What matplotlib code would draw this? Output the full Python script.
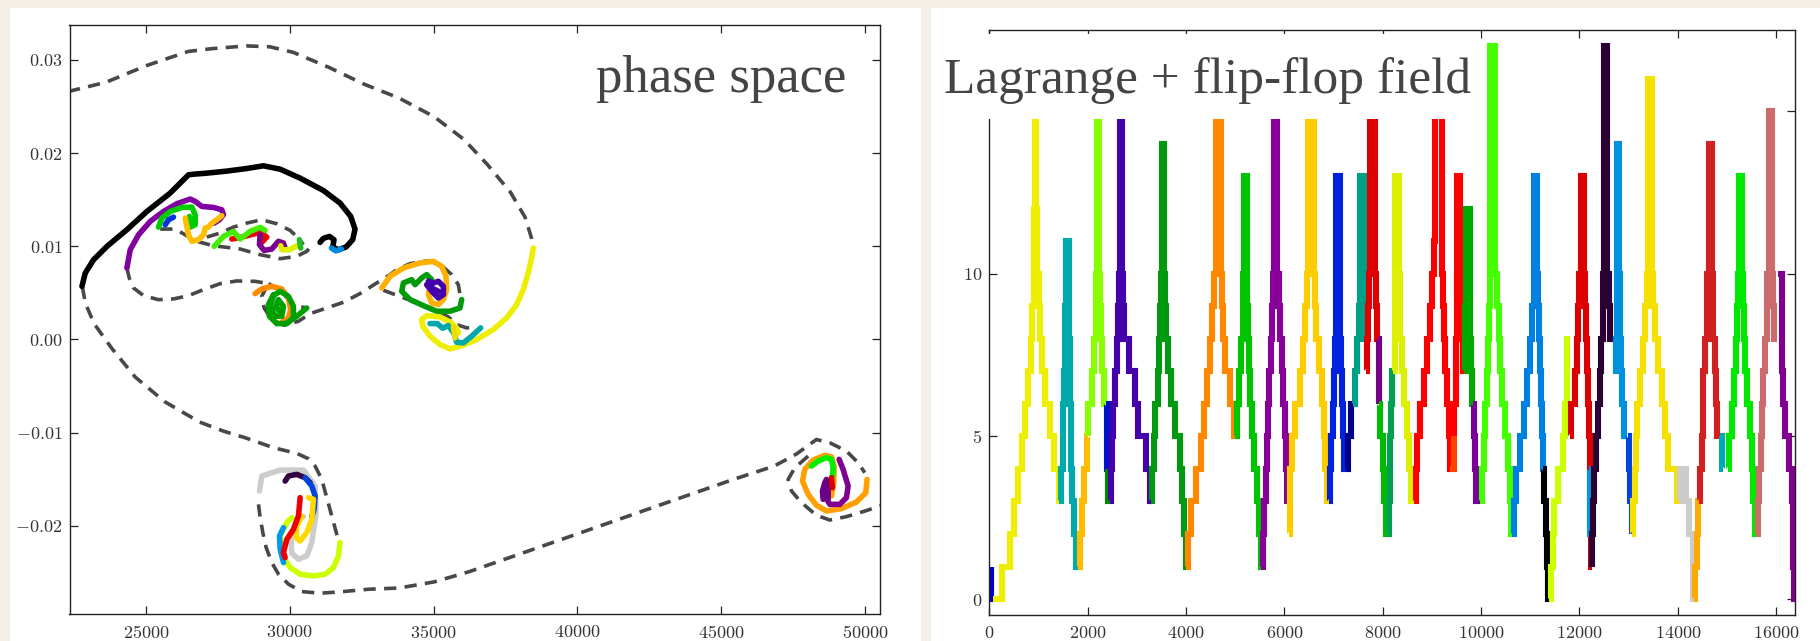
import matplotlib
matplotlib.use('Agg')
import matplotlib.pyplot as plt
from matplotlib.patches import Rectangle

OUTPUT_FILENAME = 'out.png'
PAPER_COLOR = '#f3eee6'
INK = '#333333'
DASH_COLOR = '#484848'

plt.rcParams['font.family'] = 'serif'
plt.rcParams['font.serif'] = ['cmr10']
plt.rcParams['mathtext.fontset'] = 'cm'
plt.rcParams['axes.formatter.use_mathtext'] = True

# ---- left panel: phase space -------------------------------------------
PHASE_XLIM = (22351, 50510)
PHASE_YLIM = (-0.0295, 0.0337)
PHASE_XTICKS = [25000, 30000, 35000, 40000, 45000, 50000]
PHASE_YTICKS = [-0.02, -0.01, 0.0, 0.01, 0.02, 0.03]

# reference orbit (dashed), one list per piece
DASHED_X = [
    [22300, 23620, 25040, 26470, 27280, 28500, 29320, 30130, 31360, 32580,
     33800, 35020, 36040, 36860, 37670, 38180, 38440],
    [24345, 24426, 24576, 24924, 25444, 25965, 26485, 27006, 27585, 28163,
     28799, 29262, 29030, 29112, 29378, 29806, 30304, 30709, 31287, 31866,
     32444, 33023, 33485, 33720, 34183, 34819, 35282, 35629, 35860, 35918],
    [29262, 29552, 29956, 30188, 30593],
    [33257, 34183, 35108, 35513, 35802, 36149, 36439],
    [22800, 22902, 23207, 23819, 24633, 25652, 26874, 27700, 28455, 29438,
     30248, 30653, 30884, 31116, 31289, 31463, 31636, 31752],
    [28917, 28975, 29068, 29183, 29380, 29612, 29959, 30421, 31058, 31752,
     32735, 33800, 35022, 36244, 37670, 39300, 41337, 43374, 45411, 46837,
     47609, 48300, 48766, 49344, 49749, 49980],
    [48013, 47551, 47319, 47435, 47782, 48303, 48766, 49344, 49923, 50444, 50700],
    [25502, 26023, 26428, 26775, 27353, 28279, 28973, 29667, 30246, 30593, 30766],
    [27122, 27585, 28047, 28510, 29031, 29552, 30014, 30304, 30477],
]
DASHED_Y = [
    [0.0266, 0.0276, 0.0294, 0.0309, 0.0312, 0.0315, 0.0314, 0.0308, 0.0292,
     0.0274, 0.0259, 0.0239, 0.0215, 0.0188, 0.0158, 0.0131, 0.0105],
    [0.00766, 0.00659, 0.00552, 0.00469, 0.00426, 0.00434, 0.00469, 0.00534,
     0.00598, 0.00627, 0.00623, 0.00598, 0.00462, 0.00337, 0.00212, 0.00151,
     0.00194, 0.00276, 0.00337, 0.00398, 0.00491, 0.00605, 0.00694, 0.00748,
     0.00813, 0.00845, 0.00791, 0.00695, 0.00587, 0.00480],
    [0.00598, 0.00552, 0.00433, 0.00362, 0.00337],
    [0.00527, 0.00420, 0.00302, 0.00241, 0.00159, 0.00123, 0.00134],
    [0.00563, 0.00388, 0.00168, -0.00096, -0.00404, -0.00668, -0.00888,
     -0.00985, -0.01056, -0.01163, -0.01224, -0.01281, -0.01360, -0.01503,
     -0.01699, -0.01896, -0.02092, -0.02199],
    [-0.01771, -0.01914, -0.02074, -0.02235, -0.02396, -0.02521, -0.02628,
     -0.02707, -0.02725, -0.02710, -0.02682, -0.02669, -0.02603, -0.02493,
     -0.02339, -0.02163, -0.01943, -0.01723, -0.01504, -0.01360, -0.01230,
     -0.01075, -0.01110, -0.01199, -0.01324, -0.01431],
    [-0.01253, -0.01378, -0.01503, -0.01628, -0.01753, -0.01889, -0.01939,
     -0.01903, -0.01849, -0.01796, -0.01770],
    [0.01184, 0.01184, 0.01112, 0.01052, 0.01005, 0.00970, 0.00909, 0.00866,
     0.00891, 0.00945, 0.01005],
    [0.01098, 0.01141, 0.01205, 0.01248, 0.01284, 0.01241, 0.01170, 0.01087,
     0.01016],
]

# particle tracks, drawn in this order
TRACK_COLORS = [
    '#000000', '#0088dd', '#8000a0', '#00cc00', '#0033dd', '#ffbf00',
    '#ee0000', '#44ee00', '#7a0090', '#ddee00', '#22bb22',
    '#ff8c00', '#00a000', '#00a000',
    '#ffb000', '#009a0a', '#4400aa', '#eeee00', '#00a8a8', '#eedd00',
    '#cccccc', '#330044', '#0044dd', '#ccff00', '#0099ee', '#ffd800',
    '#ee0000',
    '#ffa000', '#00ee00', '#800090', '#6a0088', '#dd0000',
]
TRACK_X = [
    [22783, 22899, 23188, 23651, 24345, 25039, 25849, 26485, 26659, 27122,
     27816, 28510, 29089, 29667, 30361, 31171, 31750, 32120, 32271, 32190,
     31958, 31692, 31495, 31542, 31380, 31171, 31056],
    [31450, 31600, 31800],
    [24345, 24461, 24750, 25155, 25618, 26081, 26543, 26717, 26948, 27353,
     27642, 27700, 27561, 27376],
    [25444, 25560, 25849, 26254, 26601, 26717, 26717, 26543, 26520],
    [25676, 25791, 25965],
    [26370, 26485, 26601, 26833, 27006, 27064, 27180, 27295, 27469, 27642],
    [27990, 28337, 28973, 29204, 29031],
    [27376, 27700, 28047, 28279, 28626, 28973, 29147],
    [28973, 28950, 29112, 29378, 29609, 29783, 29841],
    [29690, 29725, 30014, 30246],
    [30338, 30385],
    [28799, 29031, 29378, 29725, 29956, 30037, 29956, 29725],
    [29436, 29262, 29297, 29552, 29899, 30130, 30130, 29956, 29667, 29436,
     29320, 29494, 29725, 29783, 29609, 29528, 29644],
    [29899, 30246, 30593],
    [33199, 33488, 33951, 34530, 34992, 35282, 35432, 35455, 35340, 35166,
     34935, 34819, 34877],
    [35976, 35918, 35571, 35108, 34645, 34183, 33893, 33951, 34240, 34356,
     34587, 34761, 34935],
    [34761, 34935, 35166, 35340, 35340, 35166, 34992, 34819, 34935, 35166],
    [38463, 38405, 38290, 38116, 37885, 37538, 37075, 36497, 35918, 35571,
     35224, 34877, 34622, 34587, 34761, 35224, 35629, 35860, 35802, 35513],
    [34877, 35131, 35316, 35513, 35710, 35802, 36034, 36323, 36635],
    [35687, 35744],
    [28952, 29033, 29669, 30479, 30884, 30919, 30769, 30595, 30306, 30075,
     30040, 30248, 30479],
    [29843, 29959, 30248, 30537, 30711],
    [30537, 30769, 30884, 30850, 30769],
    [31752, 31694, 31521, 31231, 30826, 30364, 30017, 29785, 29669, 29901,
     30075],
    [29785, 29669, 29646, 29785],
    [30653, 30826, 30769, 30595, 30364, 30225, 30248, 30421],
    [30364, 30306, 30132, 29901, 29785, 29843],
    [50061, 50015, 49691, 49170, 48650, 48303, 48013, 47817, 47898, 48187,
     48592, 48823, 48916, 48904, 48823],
    [48129, 48361, 48650, 48823, 48881, 48858],
    [49089, 49228, 49402, 49344, 49113, 48766, 48627],
    [48534, 48511, 48592, 48650, 48708, 48708],
    [48823, 48858],
]
TRACK_Y = [
    [0.00569, 0.00712, 0.00855, 0.00998, 0.01177, 0.01373, 0.01570, 0.01766,
     0.01773, 0.01784, 0.01806, 0.01834, 0.01863, 0.01827, 0.01731, 0.01598,
     0.01463, 0.01320, 0.01184, 0.01070, 0.00991, 0.00962, 0.00991, 0.01070,
     0.01105, 0.01084, 0.01041],
    [0.00980, 0.00950, 0.00970],
    [0.00766, 0.00962, 0.01123, 0.01266, 0.01373, 0.01456, 0.01506, 0.01481,
     0.01427, 0.01416, 0.01391, 0.01338, 0.01284, 0.01248],
    [0.01205, 0.01302, 0.01373, 0.01416, 0.01420, 0.01338, 0.01230, 0.01205,
     0.01320],
    [0.01230, 0.01284, 0.01312],
    [0.01302, 0.01123, 0.01052, 0.01070, 0.01123, 0.01195, 0.01205, 0.01248,
     0.01284, 0.01327],
    [0.01077, 0.01098, 0.01148, 0.01098, 0.01041],
    [0.00998, 0.01105, 0.01159, 0.01077, 0.01159, 0.01202, 0.01170],
    [0.01123, 0.01016, 0.00955, 0.00969, 0.01052, 0.01034, 0.00980],
    [0.01005, 0.00962, 0.00962, 0.01005],
    [0.01070, 0.00980],
    [0.00491, 0.00541, 0.00569, 0.00541, 0.00444, 0.00319, 0.00230, 0.00183],
    [0.00480, 0.00373, 0.00248, 0.00169, 0.00169, 0.00230, 0.00355, 0.00462,
     0.00516, 0.00469, 0.00355, 0.00248, 0.00248, 0.00355, 0.00426, 0.00355,
     0.00301],
    [0.00176, 0.00248, 0.00337],
    [0.00552, 0.00677, 0.00766, 0.00820, 0.00838, 0.00784, 0.00677, 0.00534,
     0.00427, 0.00373, 0.00391, 0.00480, 0.00587],
    [0.00427, 0.00337, 0.00302, 0.00302, 0.00362, 0.00427, 0.00516, 0.00605,
     0.00641, 0.00587, 0.00659, 0.00695, 0.00641],
    [0.00587, 0.00516, 0.00444, 0.00480, 0.00570, 0.00623, 0.00605, 0.00623,
     0.00552, 0.00516],
    [0.00980, 0.00873, 0.00713, 0.00534, 0.00373, 0.00230, 0.00105, -0.00002,
     -0.00074, -0.00102, -0.00056, 0.00034, 0.00141, 0.00212, 0.00255,
     0.00241, 0.00177, 0.00069, 0.00123, 0.00177],
    [0.00169, 0.00169, 0.00119, 0.00148, 0.00062, -0.00031, -0.00038, 0.00034,
     0.00123],
    [0.00141, 0.00016],
    [-0.01628, -0.01467, -0.01403, -0.01403, -0.01574, -0.01860, -0.02181,
     -0.02324, -0.02360, -0.02296, -0.02110, -0.01931, -0.01903],
    [-0.01521, -0.01467, -0.01449, -0.01485, -0.01538],
    [-0.01485, -0.01574, -0.01681, -0.01824, -0.01903],
    [-0.02181, -0.02324, -0.02450, -0.02521, -0.02539, -0.02521, -0.02450,
     -0.02343, -0.02110, -0.01967, -0.01914],
    [-0.02396, -0.02253, -0.02110, -0.02021],
    [-0.01699, -0.01717, -0.01931, -0.02074, -0.02164, -0.02128, -0.02003,
     -0.01896],
    [-0.01699, -0.01896, -0.02039, -0.02146, -0.02289, -0.02343],
    [-0.01503, -0.01646, -0.01746, -0.01817, -0.01842, -0.01781, -0.01663,
     -0.01521, -0.01395, -0.01295, -0.01245, -0.01260, -0.01360, -0.01538,
     -0.01681],
    [-0.01360, -0.01306, -0.01270, -0.01288, -0.01378, -0.01467],
    [-0.01288, -0.01395, -0.01574, -0.01699, -0.01771, -0.01771, -0.01699],
    [-0.01717, -0.01628, -0.01538, -0.01503, -0.01610, -0.01717],
    [-0.01485, -0.01592],
]

# ---- right panel: tree level of the leading particle -------------------
LEVEL_XLIM = (0, 16384)
LEVEL_YLIM = (-0.5, 17.5)
LEVEL_XTICKS = list(range(0, 16001, 2000))
LEVEL_YTICKS = [0, 5, 10, 15]

STEP_COLORS = [
    '#0000cc', '#eeee00', '#00aaaa', '#ffbb00', '#88ff00', '#0011cc',
    '#008800', '#4400aa', '#009910', '#ff8800', '#00c400', '#880099',
    '#ffcc00', '#0022dd', '#000088', '#00a088', '#dd0000', '#770088',
    '#00bb00', '#00a050', '#ddf000', '#ff0000', '#ff4400', '#ff0000',
    '#00aa00', '#770099', '#44ff00', '#0080e0', '#000000', '#ccff00',
    '#dd0000', '#0099dd', '#2a0035', '#0090e0', '#0044dd', '#f5e000',
    '#cccccc', '#ffaa00', '#d02020', '#00a8b8', '#00e800', '#cc6b6b',
    '#800090',
]
STEP_X = [
    [30, 30, 75],
    [75, 246, 417, 505, 587, 656, 724, 792, 847, 874, 895, 910, 925, 945,
     963, 997, 1031, 1065, 1134, 1236, 1305, 1407, 1441],
    [1421, 1462, 1489, 1503, 1516, 1530, 1544, 1564, 1612, 1620, 1630, 1640,
     1653, 1680, 1714, 1769, 1800],
    [1800, 1837, 1885, 1919, 1974, 2008],
    [2000, 2008, 2076, 2124, 2158, 2172, 2192, 2227, 2240, 2261, 2281, 2320,
     2370],
    [2370, 2390, 2410],
    [2410, 2420, 2445],
    [2445, 2466, 2486, 2513, 2554, 2589, 2623, 2636, 2660, 2700, 2718, 2740,
     2841, 2964, 3012, 3183, 3265, 3299],
    [3285, 3306, 3340, 3367, 3422, 3456, 3470, 3483, 3504, 3558, 3579, 3593,
     3627, 3695, 3763, 3866, 3920, 3948, 4002, 4010],
    [3989, 4036, 4104, 4207, 4310, 4364, 4426, 4494, 4535, 4562, 4603, 4699,
     4719, 4754, 4788, 4890, 4972, 4990],
    [4990, 5041, 5082, 5116, 5150, 5163, 5180, 5232, 5245, 5266, 5280, 5300,
     5334, 5382, 5450, 5491, 5519, 5540],
    [5530, 5560, 5590, 5620, 5640, 5665, 5690, 5720, 5745, 5770, 5790, 5850,
     5880, 5910, 5940, 5980, 6020, 6040, 6055, 6085],
    [6090, 6108, 6156, 6224, 6312, 6380, 6427, 6461, 6480, 6600, 6617, 6651,
     6698, 6766, 6800, 6834, 6868, 6900],
    [6902, 6922, 6949, 6990, 7017, 7037, 7058, 7125, 7153, 7173, 7193, 7220,
     7300],
    [7260, 7290, 7360, 7400],
    [7400, 7444, 7478, 7512, 7526, 7546, 7614, 7627, 7640, 7660],
    [7660, 7681, 7700, 7720, 7749, 7851, 7871, 7885, 7900],
    [7900, 7919, 7930],
    [7930, 7953, 8007, 8034, 8075, 8100],
    [8100, 8122, 8142, 8156, 8176, 8197, 8220],
    [8210, 8240, 8258, 8326, 8340, 8359, 8393, 8441, 8495, 8542, 8576, 8631],
    [8631, 8665, 8698, 8766, 8834, 8902, 8970, 9004, 9037, 9071, 9207, 9227,
     9241, 9275, 9309, 9343, 9376, 9420],
    [9376, 9444, 9458],
    [9444, 9458, 9480, 9500, 9512, 9580, 9600, 9614, 9634, 9661],
    [9661, 9680, 9702, 9783, 9797, 9817, 9837],
    [9837, 9851, 9885, 9905, 9987],
    [9987, 10021, 10054, 10088, 10122, 10143, 10156, 10190, 10292, 10326,
     10360, 10393, 10427, 10495, 10543, 10583, 10600, 10631],
    [10631, 10665, 10699, 10787, 10868, 10936, 11004, 11038, 11070, 11140,
     11155, 11170, 11190, 11214, 11234, 11254, 11281],
    [11268, 11281, 11322, 11336, 11369, 11390],
    [11390, 11417, 11458, 11485, 11573, 11675, 11709, 11742, 11756, 11800],
    [11810, 11824, 11912, 11946, 11980, 12000, 12027, 12095, 12115, 12136,
     12149, 12183, 12203, 12217, 12231, 12251],
    [12190, 12210, 12230],
    [12251, 12264, 12285, 12305, 12339, 12386, 12420, 12441, 12475, 12509,
     12570, 12597, 12624, 12692],
    [12692, 12740, 12773, 12814, 12827, 12841, 12861, 12881, 12915, 12963],
    [12980, 13000, 13030, 13064],
    [13064, 13098, 13132, 13153, 13180, 13234, 13302, 13336, 13370, 13403,
     13471, 13505, 13539, 13607, 13675, 13742, 13810, 13980, 14034],
    [14034, 14048, 14149, 14170, 14237, 14305, 14319, 14332],
    [14332, 14353, 14387, 14420, 14441],
    [14441, 14454, 14488, 14509, 14522, 14556, 14590, 14604, 14637, 14692,
     14712, 14726, 14759, 14780, 14807, 14900],
    [14861, 14900, 14915],
    [15017, 15051, 15098, 15146, 15187, 15214, 15234, 15248, 15302, 15322,
     15349, 15370, 15417, 15471, 15505, 15539, 15573, 15600],
    [15600, 15641, 15661, 15688, 15709, 15743, 15776, 15810, 15824, 15858,
     15926, 15946, 15966, 16027],
    [16048, 16115, 16120, 16149, 16183, 16271, 16319, 16353, 16366, 16384],
]
STEP_Y = [
    [1, 0, 0],
    [0, 1, 2, 3, 4, 5, 6, 7, 8, 9, 10, 12, 16, 12, 10, 9, 8, 7, 6, 5, 4, 3, 3],
    [3, 4, 5, 6, 7, 8, 9, 11, 9, 8, 7, 6, 4, 3, 2, 1, 1],
    [1, 2, 3, 4, 5, 5],
    [5, 6, 7, 8, 9, 10, 16, 10, 9, 8, 7, 6, 6],
    [6, 4, 4],
    [4, 3, 3],
    [3, 4, 5, 6, 7, 8, 9, 10, 16, 10, 9, 8, 7, 6, 5, 4, 3, 3],
    [3, 4, 5, 6, 7, 8, 9, 10, 14, 10, 9, 8, 7, 6, 5, 4, 3, 2, 1, 1],
    [1, 2, 3, 4, 5, 6, 7, 8, 9, 10, 16, 10, 9, 8, 7, 6, 5, 5],
    [5, 6, 7, 8, 9, 10, 13, 10, 9, 8, 7, 6, 5, 4, 3, 2, 1, 1],
    [1, 2, 3, 4, 5, 6, 7, 8, 9, 10, 16, 10, 9, 8, 7, 6, 5, 4, 3, 3],
    [2, 4, 5, 6, 7, 8, 9, 10, 16, 10, 9, 8, 7, 6, 5, 4, 3, 3],
    [3, 4, 5, 6, 7, 8, 13, 8, 7, 6, 5, 4, 4],
    [4, 5, 6, 6],
    [6, 7, 8, 9, 10, 13, 10, 9, 8, 8],
    [7, 8, 9, 10, 16, 10, 9, 8, 8],
    [8, 6, 6],
    [6, 5, 4, 3, 2, 2],
    [2, 3, 4, 5, 6, 7, 7],
    [7, 9, 13, 10, 9, 8, 7, 6, 5, 4, 3, 3],
    [3, 4, 5, 6, 7, 8, 9, 10, 11, 16, 10, 9, 8, 7, 6, 5, 4, 4],
    [4, 5, 5],
    [5, 6, 8, 10, 13, 10, 9, 8, 7, 7],
    [7, 9, 12, 8, 7, 6, 6],
    [6, 5, 4, 3, 3],
    [3, 4, 5, 6, 7, 8, 9, 17, 10, 9, 8, 7, 6, 5, 4, 3, 2, 2],
    [2, 3, 4, 5, 6, 7, 8, 9, 13, 10, 9, 8, 7, 6, 5, 4, 4],
    [4, 3, 2, 1, 0, 0],
    [0, 1, 2, 3, 4, 5, 6, 7, 8, 8],
    [5, 6, 7, 8, 9, 10, 13, 10, 9, 8, 7, 6, 5, 3, 1, 1],
    [4, 2, 2],
    [1, 2, 3, 4, 5, 6, 7, 8, 10, 17, 10, 9, 8, 8],
    [7, 8, 14, 10, 8, 7, 6, 6, 5, 5],
    [5, 4, 3, 2],
    [2, 3, 4, 5, 6, 7, 8, 9, 10, 16, 10, 9, 8, 7, 6, 5, 4, 3, 3],
    [3, 4, 4, 3, 2, 1, 0, 0],
    [0, 1, 2, 3, 3],
    [3, 4, 5, 6, 7, 8, 9, 10, 14, 10, 9, 8, 7, 6, 5, 5],
    [5, 4, 4],
    [4, 5, 6, 7, 8, 9, 10, 13, 10, 9, 8, 7, 6, 5, 4, 3, 2, 2],
    [2, 3, 4, 5, 6, 7, 8, 9, 10, 15, 10, 9, 8, 8],
    [10, 8, 7, 6, 5, 4, 3, 1, 0, 0],
]

W, H = 1820, 641


def fig_box(x0, y0, x1, y1):
    # pixel box (top-left origin) -> figure fraction rectangle
    return [x0 / W, 1 - y1 / H, (x1 - x0) / W, (y1 - y0) / H]


def style_axes(ax):
    for spine in ax.spines.values():
        spine.set_color('#222222')
        spine.set_linewidth(1.0)
    ax.tick_params(direction='in', length=6, width=0.9, colors='#222222',
                   labelcolor=INK, labelsize=13, top=True, right=True)
    ax.tick_params(axis='x', pad=7)
    ax.tick_params(axis='y', pad=5)


def draw_phase_space(ax):
    for xs, ys in zip(DASHED_X, DASHED_Y):
        ax.plot(xs, ys, color=DASH_COLOR, lw=2.6, dashes=(3.4, 2.3),
                dash_capstyle='butt', zorder=1)
    for color, xs, ys in zip(TRACK_COLORS, TRACK_X, TRACK_Y):
        ax.plot(xs, ys, color=color, lw=4.0, solid_capstyle='round',
                solid_joinstyle='round', zorder=2)
    ax.set_xlim(PHASE_XLIM)
    ax.set_ylim(PHASE_YLIM)
    ax.set_xticks(PHASE_XTICKS)
    ax.set_yticks(PHASE_YTICKS)
    style_axes(ax)


def draw_levels(ax):
    for color, xs, ys in zip(STEP_COLORS, STEP_X, STEP_Y):
        ax.plot(xs, ys, drawstyle='steps-post', color=color, lw=4.4,
                solid_capstyle='butt', solid_joinstyle='miter', zorder=2)
    ax.set_xlim(LEVEL_XLIM)
    ax.set_ylim(LEVEL_YLIM)
    ax.set_xticks(LEVEL_XTICKS)
    ax.set_yticks(LEVEL_YTICKS)
    style_axes(ax)


def main():
    fig = plt.figure(figsize=(W / 100, H / 100), dpi=100, facecolor=PAPER_COLOR)

    # white cards behind each plot
    for x0, x1 in ((10, 921), (931, 1830)):
        b = fig_box(x0, 8, x1, 650)
        fig.add_artist(Rectangle((b[0], b[1]), b[2], b[3],
                                 transform=fig.transFigure, facecolor='white',
                                 edgecolor='none', zorder=-1))

    ax_left = fig.add_axes(fig_box(69.5, 25.4, 880, 614.2))
    draw_phase_space(ax_left)

    ax_right = fig.add_axes(fig_box(989.5, 29.7, 1795, 615.3))
    draw_levels(ax_right)

    # label plate over the top-left of the right plot
    b = fig_box(935, 34, 1481, 119)
    fig.add_artist(Rectangle((b[0], b[1]), b[2], b[3],
                             transform=fig.transFigure, facecolor='white',
                             edgecolor='none', zorder=5))

    fig.text(846 / W, 1 - 92 / H, 'phase space', ha='right', va='baseline',
             family='Liberation Serif', fontsize=38, color='#444444', zorder=6)
    fig.text(944 / W, 1 - 93 / H, 'Lagrange + flip-flop field', ha='left',
             va='baseline', family='Liberation Serif', fontsize=37,
             color='#444444', zorder=6)

    fig.savefig(OUTPUT_FILENAME, dpi=100, facecolor=PAPER_COLOR)
    plt.close(fig)


if __name__ == '__main__':
    main()
